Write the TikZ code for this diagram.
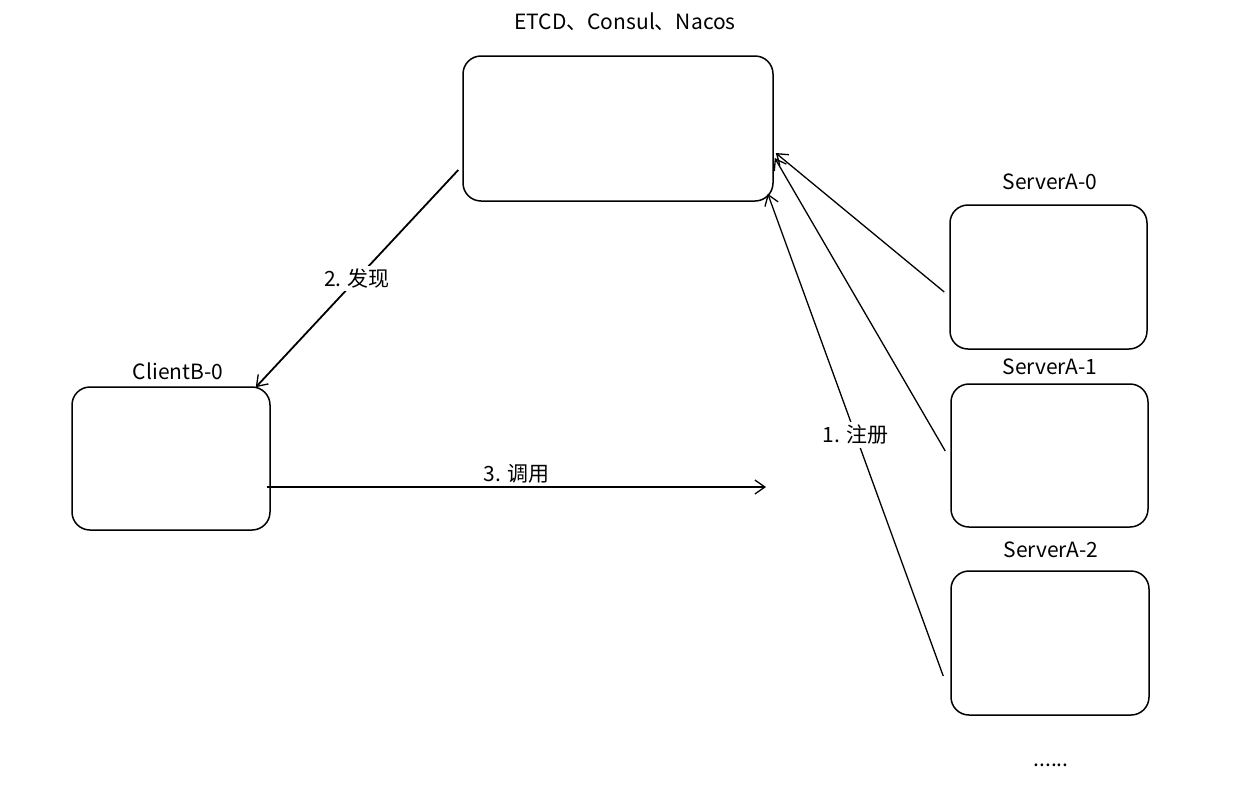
\documentclass[tikz,border=0pt]{standalone}
\usepackage{fontspec}
\setmainfont{Noto Sans CJK SC}
\usetikzlibrary{arrows.meta,calc}
\begin{document}
\begin{tikzpicture}[x=1pt,y=-1pt,
  box/.style={draw=black,line width=1.5pt,rounded corners=18pt,fill=white,inner sep=0pt},
  lbl/.style={font=\fontsize{21}{25}\selectfont,inner sep=2pt},
  conn/.style={draw=black,line width=1.3pt,-{Straight Barb[length=10pt,width=14pt,line width=1.3pt]}},
  onl/.style={font=\fontsize{21}{25}\selectfont,fill=white,inner sep=3pt}]
\useasboundingbox[fill=white] (0,0) rectangle (1249,793);
% boxes
\node[box,minimum width=310pt,minimum height=145pt] (etcd) at (618,128.5) {};
\node[box,minimum width=198pt,minimum height=143pt] (client) at (171,458.5) {};
\node[box,minimum width=197pt,minimum height=144pt] (s0) at (1048.5,277) {};
\node[box,minimum width=197pt,minimum height=143pt] (s1) at (1049.5,455.5) {};
\node[box,minimum width=198pt,minimum height=144pt] (s2) at (1050,643) {};
% titles
\node[lbl] (tetcd) at (625,22) {ETCD、Consul、Nacos};
\node[lbl] (tclient) at (178,371) {ClientB-0};
\node[lbl] (ts0) at (1050,182) {ServerA-0};
\node[lbl] (ts1) at (1050,367) {ServerA-1};
\node[lbl] (ts2) at (1051,550) {ServerA-2};
\node[lbl] (dots) at (1051,765) {......};
% connectors
\draw[conn,line width=1.8pt] ($(etcd.west)+(-4,41.5)$) -- ($(client.north east)+(-15,1)$)
  node[onl,pos=0.5] (ldisc) {2. 发现};
\coordinate (callend) at (766,487);
\draw[conn] ($(client.east)+(-4,28.5)$) -- (callend)
  node[lbl,pos=0.5,above=1pt] (lcall) {3. 调用};
\draw[conn] ($(s0.west)+(-5,15)$) -- ($(etcd.east)+(2,24.5)$);
\draw[conn] ($(s1.west)+(-5,-4.5)$) -- ($(etcd.east)+(1,29.5)$);
\draw[conn] ($(s2.west)+(-7,33)$) -- ($(etcd.south east)+(-6,-8)$)
  node[onl,pos=0.5] (lreg) {1. 注册};
\end{tikzpicture}
\end{document}
